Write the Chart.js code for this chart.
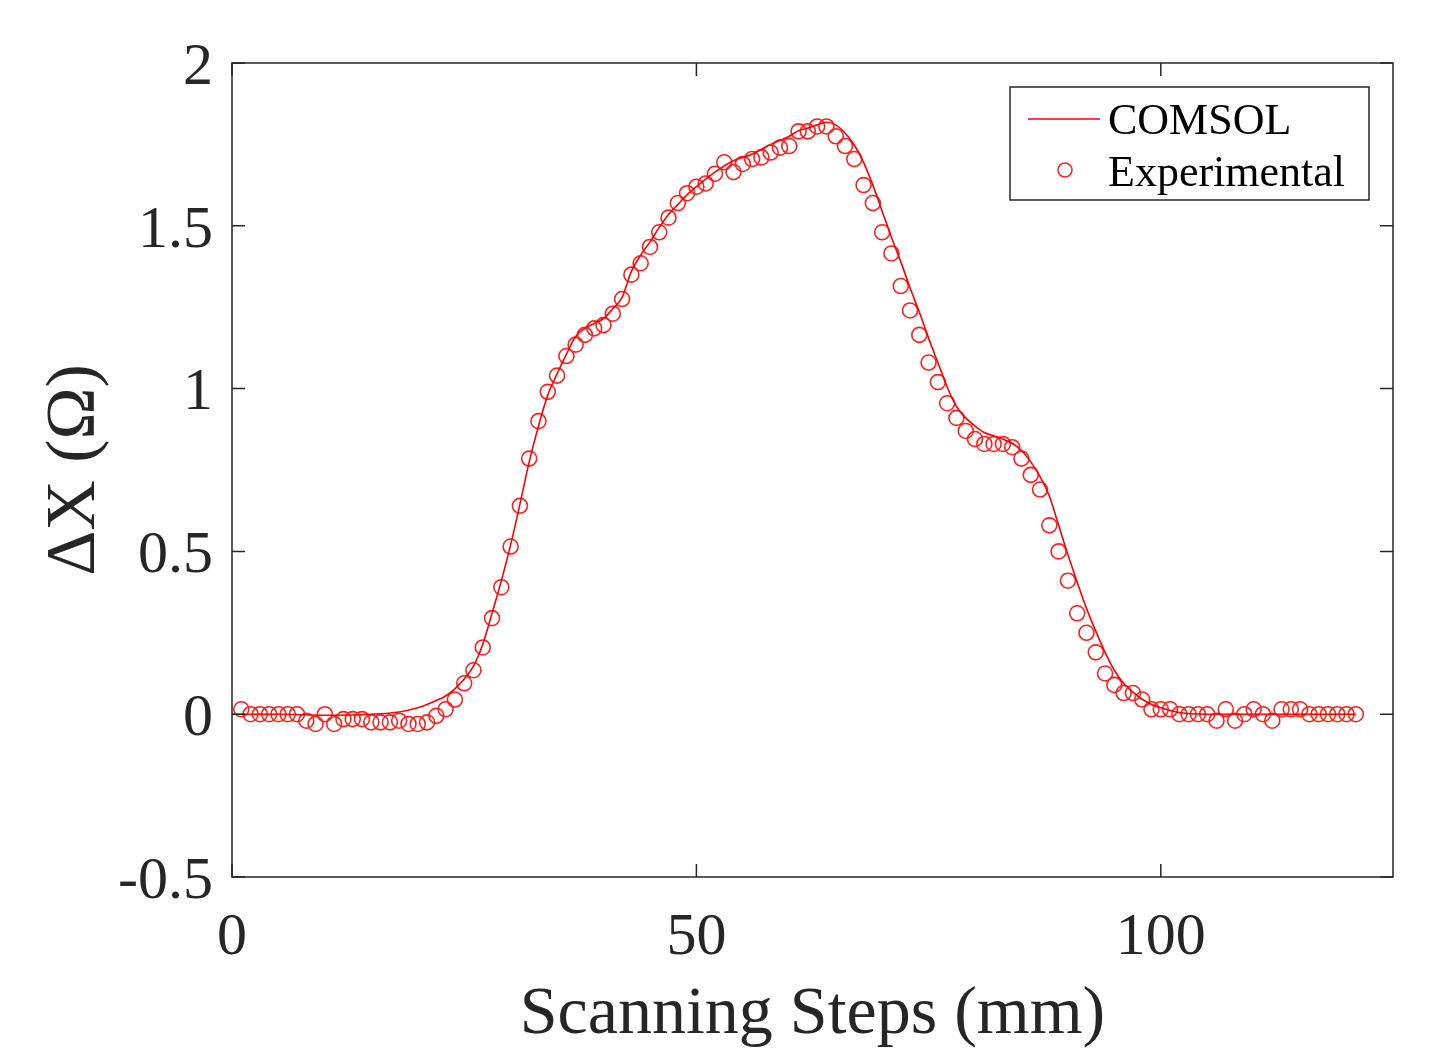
<!DOCTYPE html>
<html>
<head>
<meta charset="utf-8">
<script src="https://cdn.jsdelivr.net/npm/chart.js@4/dist/chart.umd.min.js"></script>
<style>
html, body { margin: 0; padding: 0; background: #fff; }
</style>
</head>
<body>
<canvas id="mychart" width="1439" height="1052"></canvas>
<script>
// measured points (scan step, mm)
const expSteps = [1, 2, 3, 4, 5, 6, 7, 8, 9, 10, 11, 12, 13, 14, 15, 16, 17, 18, 19, 20,
    21, 22, 23, 24, 25, 26, 27, 28, 29, 30, 31, 32, 33, 34, 35, 36, 37, 38, 39, 40,
    41, 42, 43, 44, 45, 46, 47, 48, 49, 50, 51, 52, 53, 54, 55, 56, 57, 58, 59, 60,
    61, 62, 63, 64, 65, 66, 67, 68, 69, 70, 71, 72, 73, 74, 75, 76, 77, 78, 79, 80,
    81, 82, 83, 84, 85, 86, 87, 88, 89, 90, 91, 92, 93, 94, 95, 96, 97, 98, 99, 100,
    101, 102, 103, 104, 105, 106, 107, 108, 109, 110, 111, 112, 113, 114, 115, 116, 117, 118, 119, 120, 121];
const expValues = [0.015, 0, 0, 0, 0, 0, 0, -0.02, -0.03, 0, -0.03, -0.015, -0.015, -0.015, -0.025, -0.025, -0.025, -0.02, -0.03, -0.03,
    -0.025, -0.005, 0.015, 0.045, 0.095, 0.135, 0.205, 0.295, 0.39, 0.515, 0.64, 0.785, 0.9, 0.99, 1.04, 1.1, 1.135, 1.165, 1.185, 1.195,
    1.23, 1.275, 1.35, 1.385, 1.435, 1.48, 1.525, 1.57, 1.6, 1.62, 1.63, 1.66, 1.695, 1.665, 1.69, 1.705, 1.71, 1.725, 1.74, 1.745,
    1.79, 1.79, 1.805, 1.805, 1.775, 1.745, 1.705, 1.625, 1.57, 1.48, 1.415, 1.315, 1.24, 1.165, 1.08, 1.02, 0.955, 0.91, 0.87, 0.845,
    0.83, 0.83, 0.83, 0.82, 0.785, 0.735, 0.69, 0.58, 0.5, 0.41, 0.31, 0.25, 0.19, 0.125, 0.09, 0.065, 0.065, 0.045, 0.015, 0.015,
    0.015, 0, 0, 0, 0, -0.02, 0.015, -0.02, 0, 0.015, 0, -0.02, 0.015, 0.015, 0.015, 0, 0, 0, 0, 0, 0];

// simulation curve
const comsolSteps = [0, 5, 10, 15, 18, 20, 21, 22, 23, 24, 25, 26, 27, 28, 29, 30, 31, 32, 33, 34,
    35, 36, 37, 38, 39, 40, 41, 42, 43, 44, 45, 46, 47, 48, 49, 50, 52, 54, 56, 58,
    60, 61, 62, 63, 64, 65, 66, 67, 68, 69, 70, 71, 72, 73, 74, 75, 76, 77, 78, 79,
    80, 81, 82, 83, 84, 85, 86, 87, 88, 89, 90, 91, 92, 93, 94, 95, 96, 97, 98, 99,
    100, 102, 105, 110, 115, 121];
const comsolValues = [0, 0, -0.003, 0, 0.007, 0.02, 0.03, 0.042, 0.056, 0.078, 0.108, 0.148, 0.215, 0.31, 0.41, 0.52, 0.645, 0.775, 0.885, 0.98,
    1.045, 1.105, 1.16, 1.185, 1.2, 1.215, 1.245, 1.28, 1.36, 1.41, 1.45, 1.495, 1.535, 1.565, 1.595, 1.62, 1.665, 1.7, 1.72, 1.75,
    1.775, 1.792, 1.8, 1.81, 1.818, 1.81, 1.785, 1.748, 1.695, 1.625, 1.545, 1.465, 1.39, 1.31, 1.235, 1.155, 1.08, 1.005, 0.945, 0.91,
    0.885, 0.865, 0.855, 0.845, 0.832, 0.81, 0.775, 0.73, 0.67, 0.58, 0.49, 0.405, 0.325, 0.255, 0.19, 0.135, 0.095, 0.068, 0.046, 0.03,
    0.02, 0.005, 0, 0, 0, 0];

const xTicks = [0, 50, 100];
const yTicks = [-0.5, 0, 0.5, 1, 1.5, 2];

const axisColor = '#262626';
const serif = "'Liberation Serif', 'Times New Roman', serif";

function pairs(xs, ys) {
    return xs.map(function(x, i) { return {x: x, y: ys[i]}; });
}

// matlab style box, inner ticks and legend
const boxPlugin = {
    id: 'matlabBox',
    afterDraw: function(chart) {
        const ctx = chart.ctx;
        const a = chart.chartArea;
        const xs = chart.scales.x;
        const ys = chart.scales.y;
        const tl = 13;
        ctx.save();
        ctx.strokeStyle = axisColor;
        ctx.lineWidth = 1.5;
        ctx.strokeRect(a.left, a.top, a.right - a.left, a.bottom - a.top);
        ctx.beginPath();
        xTicks.forEach(function(v) {
            const p = xs.getPixelForValue(v);
            ctx.moveTo(p, a.bottom); ctx.lineTo(p, a.bottom - tl);
            ctx.moveTo(p, a.top); ctx.lineTo(p, a.top + tl);
        });
        yTicks.forEach(function(v) {
            const p = ys.getPixelForValue(v);
            ctx.moveTo(a.left, p); ctx.lineTo(a.left + tl, p);
            ctx.moveTo(a.right, p); ctx.lineTo(a.right - tl, p);
        });
        ctx.stroke();

        // legend
        const w = 359, h = 113;
        const bx = a.right - 24 - w, by = a.top + 24;
        ctx.fillStyle = '#fff';
        ctx.fillRect(bx, by, w, h);
        ctx.strokeStyle = axisColor;
        ctx.lineWidth = 1.5;
        ctx.strokeRect(bx, by, w, h);
        const ds = chart.data.datasets;
        ctx.strokeStyle = ds[0].borderColor;
        ctx.lineWidth = ds[0].borderWidth;
        ctx.beginPath();
        ctx.moveTo(bx + 18, by + 32);
        ctx.lineTo(bx + 90, by + 32);
        ctx.stroke();
        ctx.strokeStyle = ds[1].borderColor;
        ctx.lineWidth = ds[1].borderWidth;
        ctx.beginPath();
        ctx.arc(bx + 55, by + 83, 7, 0, Math.PI * 2);
        ctx.stroke();
        ctx.fillStyle = '#000';
        ctx.font = '44px ' + serif;
        ctx.textBaseline = 'middle';
        ctx.textAlign = 'left';
        ctx.fillText(ds[0].label, bx + 98, by + 35);
        ctx.fillText(ds[1].label, bx + 98, by + 87);
        ctx.restore();
    }
};

const ctx = document.getElementById('mychart');

const myChart = new Chart(ctx, {
    type: 'scatter',
    data: {
        datasets: [{
            label: 'COMSOL',
            data: pairs(comsolSteps, comsolValues),
            showLine: true,
            borderColor: '#ff0000',
            borderWidth: 1.6,
            pointRadius: 0,
            cubicInterpolationMode: 'monotone',
            fill: false
        }, {
            label: 'Experimental',
            data: pairs(expSteps, expValues),
            showLine: false,
            borderColor: '#ff2020',
            backgroundColor: 'rgba(0,0,0,0)',
            borderWidth: 1.6,
            pointRadius: 7.5,
            pointStyle: 'circle'
        }]
    },
    options: {
        responsive: false,
        animation: false,
        layout: { padding: { top: 63, right: 46, left: 0, bottom: 0 } },
        plugins: {
            legend: { display: false },
            tooltip: { enabled: false }
        },
        scales: {
            x: {
                type: 'linear',
                min: 0,
                max: 125,
                grid: { display: false, drawTicks: false },
                border: { display: false },
                ticks: {
                    stepSize: 50,
                    includeBounds: false,
                    padding: 25,
                    color: axisColor,
                    font: { family: serif, size: 60 },
                    maxRotation: 0
                },
                title: {
                    display: true,
                    text: 'Scanning Steps (mm)',
                    color: axisColor,
                    font: { family: serif, size: 68 },
                    padding: { top: 0, bottom: -4 }
                },
                afterFit: function(scale) { scale.height = 175; }
            },
            y: {
                type: 'linear',
                min: -0.5,
                max: 2,
                grid: { display: false, drawTicks: false },
                border: { display: false },
                ticks: {
                    stepSize: 0.5,
                    padding: 19,
                    labelOffset: 5,
                    color: axisColor,
                    font: { family: serif, size: 60 },
                    callback: function(v) { return String(v); }
                },
                title: {
                    display: true,
                    text: 'ΔX (Ω)',
                    color: axisColor,
                    font: { family: serif, size: 70 },
                    padding: { top: 34, bottom: 0 }
                },
                afterFit: function(scale) { scale.width = 232; }
            }
        }
    },
    plugins: [boxPlugin]
});
</script>
</body>
</html>
